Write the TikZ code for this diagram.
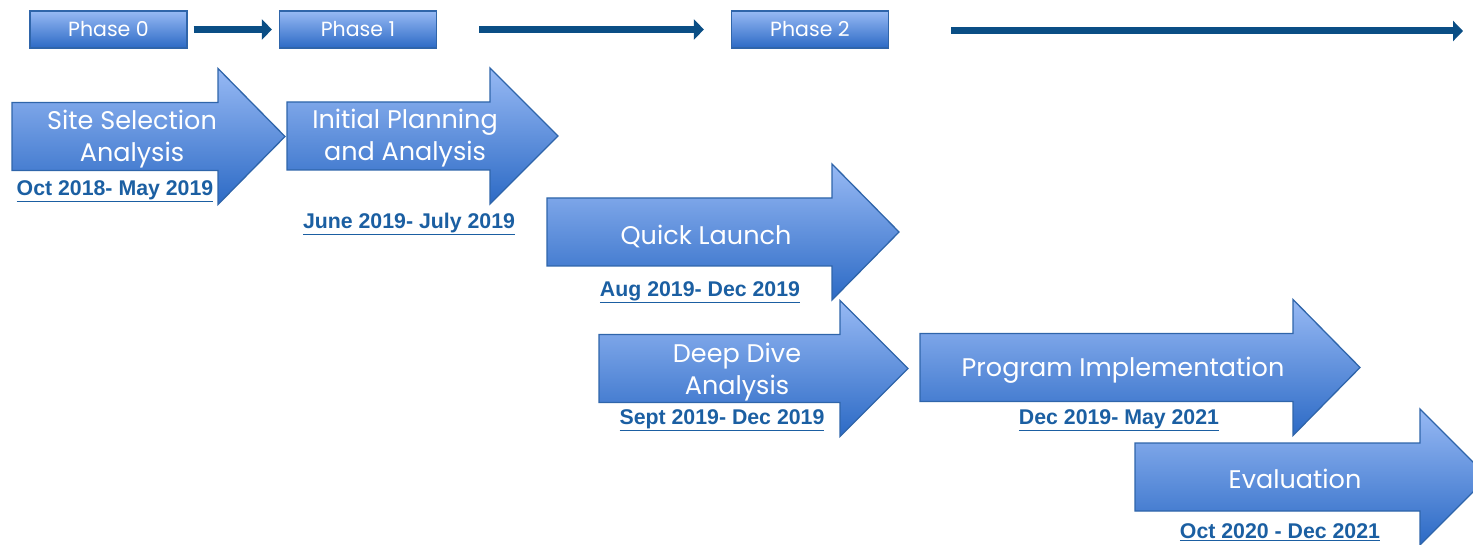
\documentclass[tikz,border=0pt]{standalone}
\usepackage{fontspec}
\setmainfont{Liberation Sans}
\newfontfamily\gothic{Poppins}
\usetikzlibrary{arrows.meta}

\definecolor{shapetop}{HTML}{97B9F4}
\definecolor{shapebot}{HTML}{2C6AC5}
\definecolor{shapeline}{HTML}{2F65AA}
\definecolor{datecol}{HTML}{1B5FA2}
\definecolor{linkcol}{HTML}{0A4E85}

\tikzset{
  phasebox/.style={draw=shapeline, line width=1.2pt, top color=shapetop, bottom color=shapebot,
    minimum width=157pt, minimum height=37pt, inner sep=0pt, text=white,
    font=\gothic\fontsize{20.5}{20.5}\selectfont},
  link/.style={draw=linkcol, line width=7pt, -{Triangle[length=10pt,width=20pt]}},
  shapefill/.style={draw=shapeline, line width=1.3pt, top color=shapetop, bottom color=shapebot},
  stagetext/.style={text=white, align=center, font=\gothic\fontsize{25.5}{32}\selectfont},
  datetext/.style={text=datecol, font=\bfseries\fontsize{21.3}{21.3}\selectfont}
}

\begin{document}
\begin{tikzpicture}[x=1pt,y=-1pt]
\useasboundingbox (0,0) rectangle (1473,545);
% left x, centre y, head base x, tip x
\def\stagearrow#1#2#3#4{\path[shapefill] (#1,#2-34) -- (#3,#2-34) -- (#3,#2-68) -- (#4,#2)
  -- (#3,#2+68) -- (#3,#2+34) -- (#1,#2+34) -- cycle;}

% phases on top
\node[phasebox] (phase0) at (108.5,29.5) {Phase 0};
\node[phasebox] (phase1) at (358,29.5) {Phase 1};
\node[phasebox] (phase2) at (810,29.5) {Phase 2};
\coordinate (phaseend) at (1463,31);
\draw[link, shorten <=6pt, shorten >=7pt] (phase0) -- (phase1);
\draw[link, shorten <=42pt, shorten >=27pt] (phase1) -- (phase2);
\draw[link, shorten <=62pt] (phase2.east |- phaseend) -- (phaseend);

% stages
\stagearrow{12}{136.5}{218}{285}
\stagearrow{287}{136}{490}{558}
\stagearrow{547}{232}{832}{899}
\stagearrow{599}{368.5}{840}{908}
\stagearrow{920}{367.5}{1293}{1360}
\stagearrow{1135}{477}{1420}{1488}

\node[stagetext] (site) at (132,139) {Site Selection\\Analysis};
\node[stagetext] (plan) at (405,138) {Initial Planning\\and Analysis};
\node[stagetext] (quick) at (706,236) {Quick Launch};
\node[stagetext] (deep) at (737,372) {Deep Dive\\Analysis};
\node[stagetext] (prog) at (1123,370) {Program Implementation};
\node[stagetext] (eval) at (1295,479) {Evaluation};

% dates
\node[datetext] (sitedate) at (115,191) {\underline{Oct 2018- May 2019}};
\node[datetext] (plandate) at (409,224) {\underline{June 2019- July 2019}};
\node[datetext] (quickdate) at (700,292) {\underline{Aug 2019- Dec 2019}};
\node[datetext] (deepdate) at (722,420) {\underline{Sept 2019- Dec 2019}};
\node[datetext] (progdate) at (1119,420) {\underline{Dec 2019- May 2021}};
\node[datetext] (evaldate) at (1280,532) {\underline{Oct 2020 - Dec 2021}};
\end{tikzpicture}
\end{document}
